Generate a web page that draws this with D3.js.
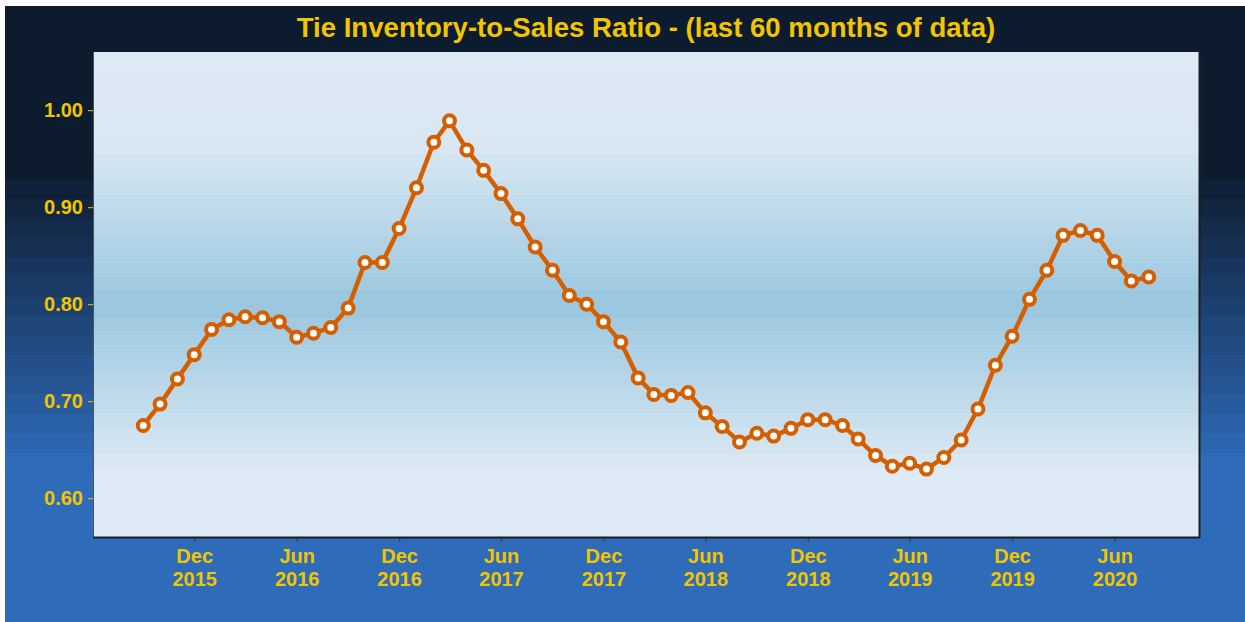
<!DOCTYPE html>
<html>
<head>
<meta charset="utf-8">
<script src="https://cdn.jsdelivr.net/npm/d3@7"></script>
<style>
  html, body { margin: 0; padding: 0; background: #ffffff; }
  svg { display: block; }
  text { font-family: "Liberation Sans", Arial, sans-serif; font-weight: bold; }
</style>
</head>
<body>
<svg id="chart" width="1245" height="622"></svg>
<script>
// ---- data ----
const months = [
  "2015-09","2015-10","2015-11","2015-12","2016-01","2016-02","2016-03","2016-04","2016-05","2016-06",
  "2016-07","2016-08","2016-09","2016-10","2016-11","2016-12","2017-01","2017-02","2017-03","2017-04",
  "2017-05","2017-06","2017-07","2017-08","2017-09","2017-10","2017-11","2017-12","2018-01","2018-02",
  "2018-03","2018-04","2018-05","2018-06","2018-07","2018-08","2018-09","2018-10","2018-11","2018-12",
  "2019-01","2019-02","2019-03","2019-04","2019-05","2019-06","2019-07","2019-08","2019-09","2019-10",
  "2019-11","2019-12","2020-01","2020-02","2020-03","2020-04","2020-05","2020-06","2020-07","2020-08"
];
const ratio = [
  0.675,0.697,0.723,0.748,0.774,0.784,0.787,0.786,0.782,0.766,
  0.770,0.776,0.796,0.843,0.843,0.878,0.920,0.967,0.989,0.959,
  0.938,0.914,0.888,0.859,0.835,0.809,0.800,0.782,0.761,0.724,
  0.707,0.706,0.709,0.688,0.674,0.658,0.667,0.664,0.672,0.681,
  0.681,0.675,0.661,0.644,0.633,0.636,0.630,0.642,0.660,0.692,
  0.737,0.767,0.805,0.835,0.871,0.876,0.871,0.844,0.824,0.828
];
const yTicks = [0.60, 0.70, 0.80, 0.90, 1.00];
const xTickDates = ["2015-12","2016-06","2016-12","2017-06","2017-12","2018-06","2018-12","2019-06","2019-12","2020-06"];
const monthNames = ["Jan","Feb","Mar","Apr","May","Jun","Jul","Aug","Sep","Oct","Nov","Dec"];
const titleText = "Tie Inventory-to-Sales Ratio - (last 60 months of data)";

// ---- layout ----
const W = 1245, H = 622;
const panel = { left: 93, right: 1199, top: 52, bottom: 537 };
const gold = "#f2c500";
const lineColor = "#d55e00";

const svg = d3.select("#chart");
const defs = svg.append("defs");
function addStop(g, frac, color) { g.append("stop").attr("offset", frac).attr("stop-color", color); }

// stepped outer background gradient
const outerGrad = defs.append("linearGradient").attr("id", "outerGrad")
  .attr("x1", 0).attr("y1", 0).attr("x2", 0).attr("y2", 1);
const oi = d3.interpolateRgb("#0d1b2f", "#2e6bb8");
const bgTop = 6, bgBot = 622;
const bandStart = 180, bandEnd = 472, nBands = 15;
addStop(outerGrad, 0, oi(0));
addStop(outerGrad, (bandStart - bgTop) / (bgBot - bgTop), oi(0));
for (let i = 0; i < nBands; i++) {
  const y0 = bandStart + (bandEnd - bandStart) * i / nBands;
  const y1 = bandStart + (bandEnd - bandStart) * (i + 1) / nBands;
  const c = oi((i + 1) / nBands);
  addStop(outerGrad, (y0 - bgTop) / (bgBot - bgTop), c);
  addStop(outerGrad, (y1 - bgTop) / (bgBot - bgTop), c);
}
addStop(outerGrad, 1, oi(1));

svg.append("rect").attr("x", 5).attr("y", 6).attr("width", W - 5).attr("height", H - 6)
  .attr("fill", "url(#outerGrad)");

// stepped panel gradient (light - dark - light)
const panelGrad = defs.append("linearGradient").attr("id", "panelGrad")
  .attr("x1", 0).attr("y1", 0).attr("x2", 0).attr("y2", 1);
const pLight = "#deeaf5", pDark = "#9cc8df";
const pi = d3.interpolateRgb(pLight, pDark);
const pTop = panel.top, pBot = panel.bottom, pH = pBot - pTop;
const pStart = 140, pMid = 304, pEnd = 468, pSteps = 12;
addStop(panelGrad, 0, pLight);
for (let i = 0; i < pSteps; i++) {
  const y0 = pStart + (pMid - pStart) * i / pSteps;
  const y1 = pStart + (pMid - pStart) * (i + 1) / pSteps;
  const c = pi((i + 1) / pSteps);
  addStop(panelGrad, (y0 - pTop) / pH, c);
  addStop(panelGrad, (y1 - pTop) / pH, c);
}
for (let i = 0; i < pSteps; i++) {
  const y0 = pMid + (pEnd - pMid) * i / pSteps;
  const y1 = pMid + (pEnd - pMid) * (i + 1) / pSteps;
  const c = pi(1 - i / pSteps);
  addStop(panelGrad, (y0 - pTop) / pH, c);
  addStop(panelGrad, (y1 - pTop) / pH, c);
}
addStop(panelGrad, (pEnd - pTop) / pH, pLight);
addStop(panelGrad, 1, pLight);

svg.append("rect").attr("x", panel.left).attr("y", panel.top)
  .attr("width", panel.right - panel.left).attr("height", panel.bottom - panel.top)
  .attr("fill", "url(#panelGrad)");

// panel border
svg.append("line").attr("x1", panel.left + 0.5).attr("x2", panel.left + 0.5)
  .attr("y1", panel.top).attr("y2", panel.bottom).attr("stroke", "#4a5560").attr("stroke-width", 1);
svg.append("line").attr("x1", panel.left).attr("x2", panel.right + 1)
  .attr("y1", panel.bottom + 0.5).attr("y2", panel.bottom + 0.5).attr("stroke", "#1a1f26").attr("stroke-width", 2);
svg.append("line").attr("x1", panel.right + 0.5).attr("x2", panel.right + 0.5)
  .attr("y1", panel.top).attr("y2", panel.bottom + 1).attr("stroke", "#1a1f26").attr("stroke-width", 2);

// ---- scales ----
const parse = d3.timeParse("%Y-%m");
const data = months.map((m, i) => ({ date: parse(m), value: ratio[i] }));
const ext = d3.extent(data, d => d.date);
const span = ext[1] - ext[0];
const x = d3.scaleTime()
  .domain([new Date(+ext[0] - span * 0.05), new Date(+ext[1] + span * 0.05)])
  .range([panel.left, panel.right]);
const y = d3.scaleLinear().domain([0.56, 1.06]).range([panel.bottom, panel.top]);

// ---- axes ----
const yAxis = svg.append("g").attr("transform", `translate(${panel.left},0)`)
  .call(d3.axisLeft(y).tickValues(yTicks).tickFormat(d3.format(".2f")).tickSize(5).tickPadding(5));
yAxis.select(".domain").remove();
yAxis.selectAll(".tick line").attr("stroke", gold).attr("stroke-width", 1);
yAxis.selectAll(".tick text").attr("fill", gold).style("font-size", "20px")
  .style("font-family", "'Liberation Sans', Arial, sans-serif").style("font-weight", "bold");

const xTicks = xTickDates.map(parse);
const xAxis = svg.append("g").attr("transform", `translate(0,${panel.bottom + 1})`)
  .call(d3.axisBottom(x).tickValues(xTicks).tickFormat("").tickSize(4));
xAxis.select(".domain").remove();
xAxis.selectAll(".tick line").attr("stroke", "#333b44").attr("stroke-width", 1);
xAxis.selectAll(".tick").each(function(d) {
  const t = d3.select(this).append("text").attr("fill", gold).attr("text-anchor", "middle")
    .style("font-size", "20px");
  t.append("tspan").attr("x", 0).attr("y", 25).text(monthNames[d.getMonth()]);
  t.append("tspan").attr("x", 0).attr("y", 48).text(d.getFullYear());
});

// ---- line & points ----
const line = d3.line().x(d => x(d.date)).y(d => y(d.value));
svg.append("path").datum(data).attr("d", line)
  .attr("fill", "none").attr("stroke", lineColor).attr("stroke-width", 4.5)
  .attr("stroke-linejoin", "round").attr("stroke-linecap", "round");
svg.append("g").selectAll("circle").data(data).join("circle")
  .attr("cx", d => x(d.date)).attr("cy", d => y(d.value)).attr("r", 5.5)
  .attr("fill", "#ffffff").attr("stroke", lineColor).attr("stroke-width", 4);

// ---- title ----
svg.append("text").attr("x", (panel.left + panel.right) / 2).attr("y", 37)
  .attr("text-anchor", "middle").attr("fill", gold).style("font-size", "27.6px")
  .text(titleText);
</script>
</body>
</html>
